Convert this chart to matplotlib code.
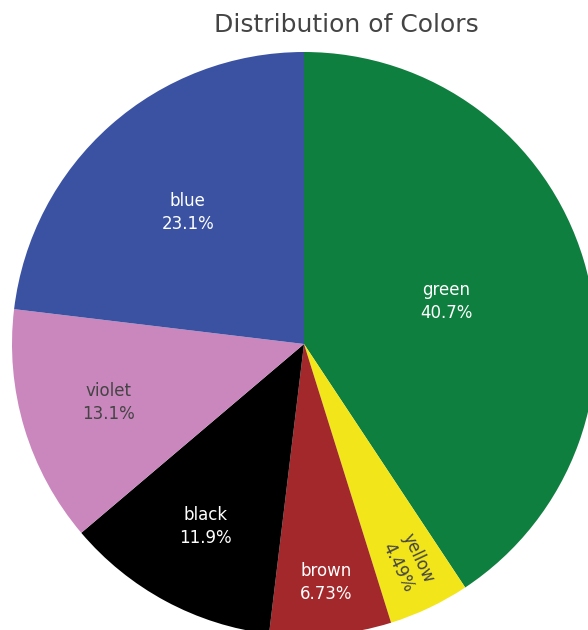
import numpy as np
import matplotlib
matplotlib.use("Agg")
import matplotlib.pyplot as plt

# Data (clockwise from 12 o'clock)
categories = ["green", "yellow", "brown", "black", "violet", "blue"]
percents = [40.7, 4.49, 6.73, 11.9, 13.1, 23.1]
pct_labels = ["40.7%", "4.49%", "6.73%", "11.9%", "13.1%", "23.1%"]

# Styles
slice_colors = ["#0f7f3f", "#f2e61a", "#a3282b", "#000000", "#ca87bd", "#3a52a1"]
text_colors = ["white", "#444444", "white", "white", "#444444", "white"]
label_radius = [0.51, 0.83, 0.82, 0.71, 0.70, 0.60]
label_rotate = [False, True, False, False, False, False]

fig = plt.figure(figsize=(5.88, 6.30), dpi=100)
ax = fig.add_axes([12 / 588, -6 / 630, 584 / 588, 584 / 630])
wedges, _ = ax.pie(percents, colors=slice_colors, startangle=90, counterclock=False,
                   radius=1.0, wedgeprops=dict(linewidth=0))
ax.set_xlim(-1, 1)
ax.set_ylim(-1, 1)
ax.set_aspect("equal")
ax.axis("off")

total = sum(percents)
cum = 0.0
for cat, p, lab, tc, rf, rot in zip(categories, percents, pct_labels, text_colors,
                                     label_radius, label_rotate):
    mid = (cum + p / 2) / total * 2 * np.pi  # clockwise from top
    cum += p
    x = rf * np.sin(mid)
    y = rf * np.cos(mid)
    rotation = 0
    if rot:
        # radial orientation
        ang = np.degrees(np.arctan2(np.cos(mid), np.sin(mid)))
        rotation = ang
    ax.text(x, y, f"{cat}\n{lab}", ha="center", va="center", color=tc,
            fontsize=12, linespacing=1.35, rotation=rotation,
            rotation_mode="anchor", family="DejaVu Sans")

fig.text(346 / 588, 1 - 25 / 630, "Distribution of Colors", ha="center", va="center",
         fontsize=18, color="#444444", family="DejaVu Sans")

fig.savefig("out.png", dpi=100)
